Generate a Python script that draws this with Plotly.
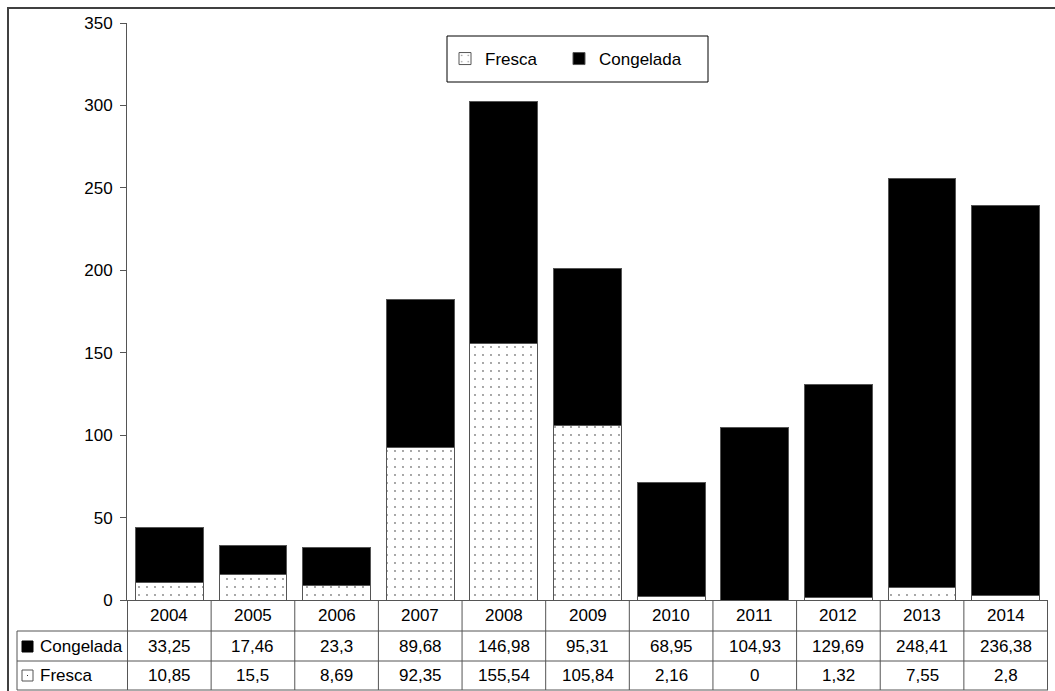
import plotly.graph_objects as go

years = ["2004", "2005", "2006", "2007", "2008", "2009", "2010", "2011", "2012", "2013", "2014"]
congelada = [33.25, 17.46, 23.3, 89.68, 146.98, 95.31, 68.95, 104.93, 129.69, 248.41, 236.38]
fresca = [10.85, 15.5, 8.69, 92.35, 155.54, 105.84, 2.16, 0, 1.32, 7.55, 2.8]
y_ticks = [0, 50, 100, 150, 200, 250, 300, 350]

W, H = 1055, 691
FONT = "Liberation Sans, Arial, sans-serif"
LINE = "#555555"


def px(x):
    return x / W


def py(y):
    return 1 - y / H


def fmt(v):
    return f"{v:g}".replace(".", ",")


fig = go.Figure()
fig.add_trace(go.Bar(
    x=years, y=fresca, name="Fresca", legend="legend",
    marker=dict(color="white", line=dict(color=LINE, width=1),
                pattern=dict(shape=".", size=8, solidity=0.04, fgcolor="black", bgcolor="white")),
))
fig.add_trace(go.Bar(
    x=years, y=congelada, name="Congelada", legend="legend2",
    marker=dict(color="black", line=dict(color=LINE, width=1)),
))

plot_left, plot_right, plot_top, plot_bottom = 127, 1048, 23, 600
row_y = [600, 631, 661, 690]

shapes = []
annotations = []

# outer frame
shapes.append(dict(type="rect", xref="paper", yref="paper",
                   x0=px(8), x1=px(1062), y0=py(8), y1=py(700),
                   line=dict(color="#404040", width=2), fillcolor="rgba(0,0,0,0)", layer="below"))

# legend box
shapes.append(dict(type="rect", xref="paper", yref="paper",
                   x0=px(447), x1=px(708), y0=py(36), y1=py(82),
                   line=dict(color="black", width=1), fillcolor="white", layer="below"))

# table horizontal lines
for yy in row_y[1:]:
    shapes.append(dict(type="line", xref="paper", yref="paper",
                       x0=px(17), x1=px(plot_right), y0=py(yy), y1=py(yy),
                       line=dict(color=LINE, width=1)))
# table vertical lines at category boundaries
for i in range(len(years) + 1):
    shapes.append(dict(type="line", xref="x", yref="paper",
                       x0=i - 0.5, x1=i - 0.5, y0=py(row_y[0]), y1=py(row_y[3]),
                       line=dict(color=LINE, width=1)))
shapes.append(dict(type="line", xref="paper", yref="paper",
                   x0=px(17), x1=px(17), y0=py(row_y[1]), y1=py(row_y[3]),
                   line=dict(color=LINE, width=1)))

# legend keys in table
shapes.append(dict(type="rect", xref="paper", yref="paper",
                   x0=px(22), x1=px(33), y0=py(641), y1=py(652),
                   line=dict(color="black", width=1), fillcolor="black"))
shapes.append(dict(type="rect", xref="paper", yref="paper",
                   x0=px(22), x1=px(33), y0=py(670), y1=py(681),
                   line=dict(color=LINE, width=1), fillcolor="white"))
shapes.append(dict(type="rect", xref="paper", yref="paper",
                   x0=px(27), x1=px(28), y0=py(675), y1=py(676),
                   line=dict(width=0), fillcolor="#333333"))

row_centers = [(row_y[k] + row_y[k + 1]) / 2 for k in range(3)]
annotations.append(dict(text="Congelada", xref="paper", yref="paper", x=px(38), y=py(row_centers[1]),
                        xanchor="left", yanchor="middle", showarrow=False,
                        font=dict(family=FONT, size=17, color="black")))
annotations.append(dict(text="Fresca", xref="paper", yref="paper", x=px(38), y=py(row_centers[2]),
                        xanchor="left", yanchor="middle", showarrow=False,
                        font=dict(family=FONT, size=17, color="black")))

for i, yr in enumerate(years):
    for k, txt in enumerate([yr, fmt(congelada[i]), fmt(fresca[i])]):
        annotations.append(dict(text=txt, xref="x", yref="paper", x=i, y=py(row_centers[k]),
                                xanchor="center", yanchor="middle", showarrow=False,
                                font=dict(family=FONT, size=17, color="black")))

legend_common = dict(orientation="h", yanchor="middle", y=py(59), xanchor="left",
                     borderwidth=0, bgcolor="rgba(0,0,0,0)",
                     font=dict(family=FONT, size=17, color="black"))

fig.update_layout(
    width=W, height=H,
    margin=dict(l=0, r=0, t=0, b=0, autoexpand=False),
    paper_bgcolor="white", plot_bgcolor="white",
    barmode="stack", bargap=0.19,
    font=dict(family=FONT, size=17, color="black"),
    showlegend=True,
    legend=dict(x=px(445), **legend_common),
    legend2=dict(x=px(559), **legend_common),
    xaxis=dict(type="category", domain=[px(plot_left), px(plot_right)], showticklabels=False, ticks="",
               showgrid=False, zeroline=False, showline=True, linecolor=LINE, linewidth=1,
               automargin=False, categoryorder="array", categoryarray=years),
    yaxis=dict(domain=[py(plot_bottom), py(plot_top)], range=[0, 350], tickvals=y_ticks,
               ticks="outside", ticklen=6, tickcolor=LINE, ticklabelstandoff=4,
               showgrid=False, zeroline=False,
               showline=True, linecolor=LINE, linewidth=1, automargin=False,
               tickfont=dict(family=FONT, size=17, color="black")),
    shapes=shapes, annotations=annotations,
)

fig.write_html("out.html")
